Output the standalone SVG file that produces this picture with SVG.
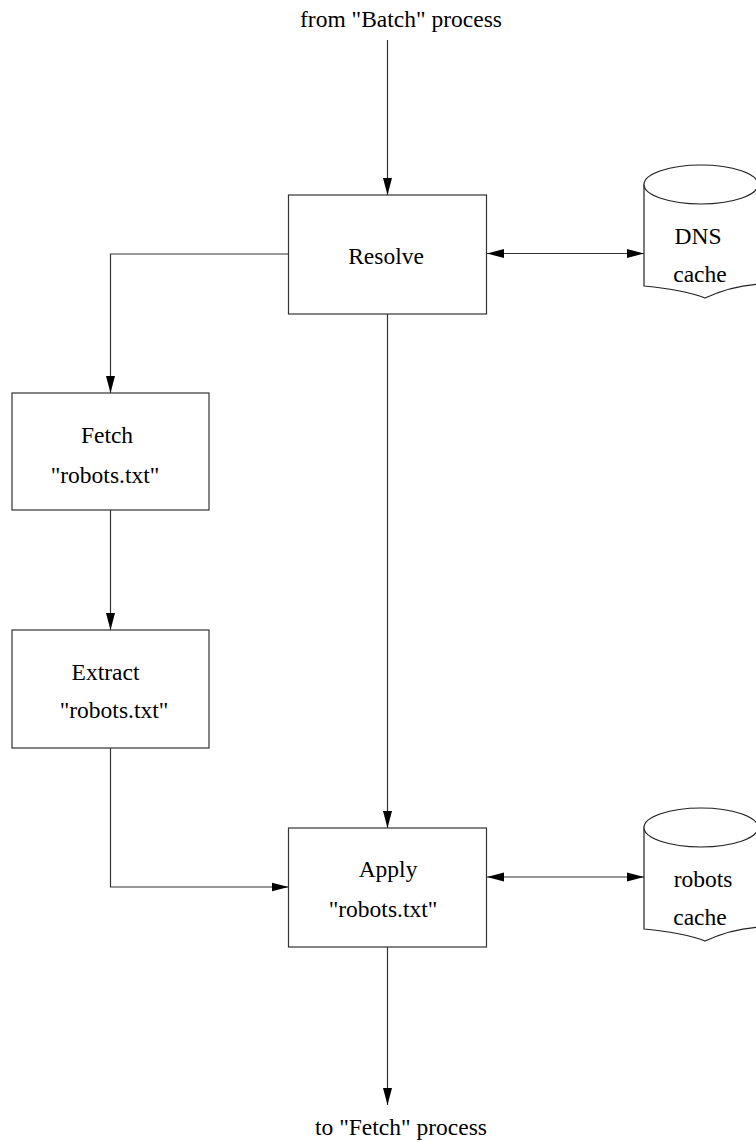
<svg xmlns="http://www.w3.org/2000/svg" width="756" height="1142" viewBox="0 0 756 1142">
<style>
.box{fill:#fff;stroke:#333;stroke-width:1.2}
.cyl{fill:#fff;stroke:#222;stroke-width:1.2}
.t{font-family:"Liberation Serif","Times New Roman",serif;font-size:23.5px;fill:#000}
.c{stroke:#333;stroke-width:1.2;fill:none}
</style>
<defs>
<marker id="ah" markerWidth="17" markerHeight="10" refX="17" refY="5" orient="auto-start-reverse" markerUnits="userSpaceOnUse">
<path d="M0,0.5 L17,5 L0,9.5 z" fill="#000"/>
</marker>
</defs>
<text class="t" x="401" y="27" text-anchor="middle">from "Batch" process</text>
<text class="t" x="401" y="1135" text-anchor="middle">to "Fetch" process</text>
<g id="connectors">
<path class="c" d="M387.5,40 V195" marker-end="url(#ah)"/>
<path class="c" d="M288.5,254 H110.5 V393" marker-end="url(#ah)"/>
<path class="c" d="M487,253.5 H644" marker-start="url(#ah)" marker-end="url(#ah)"/>
<path class="c" d="M387.5,314 V828" marker-end="url(#ah)"/>
<path class="c" d="M110.5,510 V630" marker-end="url(#ah)"/>
<path class="c" d="M110.5,748 V887 H288.5" marker-end="url(#ah)"/>
<path class="c" d="M487,877 H644" marker-start="url(#ah)" marker-end="url(#ah)"/>
<path class="c" d="M387.5,947 V1105" marker-end="url(#ah)"/>
</g>
<g id="resolve">
<rect class="box" x="288.5" y="195" width="198" height="119"/>
<text class="t" x="386" y="264" text-anchor="middle">Resolve</text>
</g>
<g id="dns-cache">
<path class="cyl" d="M644,184.5 V286 C665,288 690,292 705,298 C722,290 742,285 760,284 V184.5"/>
<ellipse class="cyl" cx="701" cy="184.5" rx="57" ry="19.5"/>
<text class="t" x="698" y="244" text-anchor="middle">DNS</text>
<text class="t" x="700" y="282" text-anchor="middle">cache</text>
</g>
<g id="fetch">
<rect class="box" x="12" y="393" width="197" height="117"/>
<text class="t" x="107" y="443" text-anchor="middle">Fetch</text>
<text class="t" x="105" y="483" text-anchor="middle">"robots.txt"</text>
</g>
<g id="extract">
<rect class="box" x="12" y="630" width="197" height="118"/>
<text class="t" x="105.5" y="680" text-anchor="middle">Extract</text>
<text class="t" x="114" y="718" text-anchor="middle">"robots.txt"</text>
</g>
<g id="apply">
<rect class="box" x="288.5" y="828" width="198" height="119"/>
<text class="t" x="388" y="877" text-anchor="middle">Apply</text>
<text class="t" x="383" y="917" text-anchor="middle">"robots.txt"</text>
</g>
<g id="robots-cache">
<path class="cyl" d="M644,827.5 V929 C665,931 690,935 705,941 C722,933 742,928 760,927 V827.5"/>
<ellipse class="cyl" cx="701" cy="827.5" rx="57" ry="19.5"/>
<text class="t" x="703" y="887" text-anchor="middle">robots</text>
<text class="t" x="700" y="925" text-anchor="middle">cache</text>
</g>
</svg>
